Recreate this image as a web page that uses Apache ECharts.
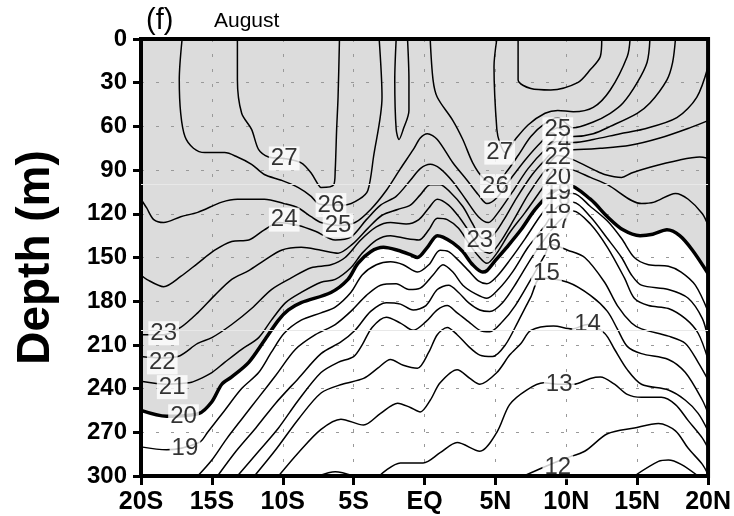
<!DOCTYPE html>
<html>
<head>
<meta charset="utf-8">
<script src="https://cdn.jsdelivr.net/npm/echarts/dist/echarts.min.js"></script>
<style>
  html, body { margin: 0; padding: 0; background: #fff; }
  #main { width: 734px; height: 516px; }
</style>
</head>
<body>
<div id="main"></div>
<script>
// latitude (deg, S negative) / depth (m) pairs for each isotherm
var latLabels = ['20S', '15S', '10S', '5S', 'EQ', '5N', '10N', '15N', '20N'];

var iso11 = [[14.8,300],[16.5,290],[17.2,289],[18.1,292],[19.3,300]];
var iso12 = [[7.0,300],[8.4,294],[9.9,288],[11.3,283],[12.9,271],[14.8,267],[16.5,264],[17.7,269],[18.6,281],[19.6,292],[20,299]];
var iso13 = [[-3.2,300],[-1.7,291],[-0.1,291],[1.1,284],[2.3,277],[3.9,283],[5.1,270],[6.0,251],[7.2,241],[8.4,236],[9.4,237],[10.5,237],[11.7,233],[12.4,232],[13.4,237],[14.3,244],[15.3,246],[16.7,246],[17.7,251],[18.6,262],[19.6,274],[20,281]];
var iso13b = [[-7.5,300],[-6.3,297],[-5.0,300]];
var iso14 = [[-10.3,300],[-8.9,284],[-7.3,268],[-5.9,261],[-4.3,265],[-3.1,257],[-1.9,250],[-1.0,253],[-0.3,256],[0.4,248],[1.1,236],[2.3,227],[3.2,233],[3.9,237],[5.1,229],[6.0,217],[6.8,209],[7.5,200],[9.1,197],[10.4,199],[11.5,196],[12.7,202],[13.4,213],[14.3,227],[15.3,237],[17.2,241],[18.4,248],[19.3,257],[20,269]];
var iso15 = [[-12.0,300],[-10.5,282],[-8.9,261],[-7.3,243],[-5.8,237],[-4.3,233],[-3.3,226],[-2.4,220],[-1.5,224],[-0.5,226],[0.3,215],[0.9,203],[1.6,198],[2.3,203],[3.1,211],[3.9,217],[4.8,218],[5.7,210],[6.6,194],[7.5,177],[8.2,164],[10.1,167],[11.7,176],[12.9,187],[13.6,199],[14.3,211],[15.3,216],[17.2,220],[18.4,229],[19.6,248],[20,257]];
var iso16 = [[-13.2,300],[-11.7,283],[-10.3,267],[-8.9,248],[-7.3,229],[-6.1,222],[-5.0,218],[-4.4,210],[-3.7,198],[-2.7,191],[-1.7,195],[-0.8,200],[0.1,194],[0.9,186],[1.6,183],[2.3,188],[3.1,194],[3.9,200],[4.6,201],[5.5,194],[6.4,183],[7.5,165],[8.5,148],[8.9,141],[10.1,145],[11.3,150],[12.7,167],[13.6,183],[14.6,195],[15.3,199],[17.2,204],[18.4,209],[19.3,222],[20,234]];
var iso17 = [[-14.6,300],[-13.3,283],[-11.9,267],[-10.5,250],[-8.9,233],[-7.3,216],[-5.9,208],[-4.9,200],[-3.8,187],[-2.7,181],[-1.7,182],[-0.8,186],[0.1,183],[0.9,172],[1.7,169],[2.4,174],[3.1,181],[3.9,186],[4.6,187],[5.5,181],[6.5,167],[7.7,148],[9.4,126],[10.5,118],[11.7,127],[12.9,143],[14.1,164],[14.8,178],[15.8,183],[17.2,185],[18.4,192],[19.3,202],[20,220]];
var iso18 = [[-16.0,300],[-15.0,289],[-14.0,275],[-12.9,261],[-11.7,246],[-10.5,231],[-9.1,213],[-7.7,203],[-6.3,196],[-5.2,187],[-4.1,176],[-3.1,169],[-2.0,168],[-1.1,172],[-0.3,171],[0.6,162],[1.3,155],[2.0,160],[2.7,169],[3.6,175],[4.4,178],[5.2,172],[6.2,160],[7.3,143],[8.5,128],[9.4,115],[10.5,112],[11.7,122],[12.9,137],[13.9,150],[14.6,162],[15.3,169],[17.2,172],[18.6,178],[19.6,192],[20,206]];
var iso19 = [[-20,280],[-18.2,282],[-15.9,277],[-15.3,270],[-14.1,255],[-12.9,240],[-11.7,229],[-10.8,215],[-9.9,202],[-8.7,193],[-7.3,188],[-6.3,184],[-5.2,174],[-4.4,162],[-3.4,155],[-2.4,153],[-1.5,155],[-0.5,160],[0.3,155],[1.1,145],[1.7,146],[2.4,152],[3.1,159],[3.8,166],[4.4,168],[5.1,163],[6.0,152],[7.1,137],[8.2,121],[9.4,107],[10.5,106],[11.7,115],[12.9,125],[13.9,137],[14.8,150],[15.8,155],[17.2,156],[18.1,160],[19.1,169],[20,187]];
var iso20 = [[-20,255],[-18.2,259],[-15.9,257],[-15.0,249],[-14.3,237],[-13.6,232],[-12.4,222],[-11.3,207],[-10.3,193],[-9.6,186],[-8.7,181],[-6.6,174],[-5.4,165],[-4.7,154],[-3.8,146],[-2.9,143],[-1.9,145],[-1.0,148],[-0.5,150],[0.2,143],[0.9,135],[1.3,136],[2.0,140],[2.7,146],[3.4,155],[4.1,160],[4.4,159],[5.0,152],[5.8,143],[6.8,131],[7.8,117],[8.9,106],[10.1,100],[11.7,110],[12.9,122],[14.0,131],[15.2,135],[16.1,134],[17.1,131],[18.0,135],[18.9,145],[20,161]];
var iso21 = [[-20,235],[-18.2,237],[-16.6,236],[-16.0,234],[-15.0,229],[-14.1,222],[-12.9,213],[-11.7,205],[-10.8,193],[-9.8,181],[-8.7,174],[-7.3,167],[-6.3,165],[-5.2,157],[-4.4,147],[-3.4,138],[-2.4,135],[-1.3,137],[-0.4,138],[0.3,131],[0.9,123],[1.6,124],[2.4,130],[3.1,140],[3.8,149],[4.4,154],[5.1,147],[6.0,133],[7.1,119],[8.2,104],[9.4,88],[10.5,90],[11.7,95],[12.9,100],[15.3,113],[16.2,112],[17.7,106],[18.6,110],[19.6,120],[20,128]];
var iso22 = [[-20,218],[-18.6,219],[-17.4,218],[-16.0,209],[-15.0,205],[-13.6,196],[-12.2,185],[-10.8,172],[-9.4,164],[-8.0,157],[-6.6,155],[-5.6,150],[-4.5,138],[-3.4,129],[-2.4,126],[-1.3,127],[-0.4,124],[0.3,116],[0.9,110],[1.7,114],[2.5,123],[3.2,133],[3.9,144],[4.6,147],[5.3,140],[6.3,124],[7.3,107],[8.5,90],[9.4,80],[10.5,83],[12.0,90],[12.7,93],[13.9,95],[14.6,92],[15.9,88],[18.0,83],[19.4,81],[20,82]];
var iso23 = [[-20,203],[-18.4,203],[-17.2,198],[-16.0,188],[-14.8,176],[-13.6,165],[-12.4,159],[-11.3,152],[-10.1,145],[-8.7,143],[-7.3,145],[-6.1,147],[-5.1,141],[-4.0,130],[-3.0,121],[-1.9,117],[-1.0,114],[-0.3,107],[0.4,100],[1.1,100],[1.8,105],[2.7,115],[3.4,127],[4.1,137],[4.8,135],[5.6,124],[6.5,109],[7.6,93],[8.5,83],[9.4,75],[10.5,76],[12.4,75],[14.5,73],[16.6,68],[18.7,61],[20,56]];
var iso24 = [[-20,162],[-19.6,165],[-18.4,170],[-17.2,163],[-16.0,154],[-14.8,145],[-13.6,139],[-12.4,138],[-11.3,131],[-10.3,126],[-8.9,128],[-7.7,132],[-6.3,138],[-5.2,136],[-4.1,124],[-3.1,114],[-2.0,108],[-1.0,97],[-0.3,89],[0.4,86],[1.1,89],[2.0,98],[2.9,110],[3.8,122],[4.5,126],[5.2,119],[6.2,105],[7.3,89],[8.5,76],[9.4,70],[10.5,71],[11.9,69],[13.8,65],[15.4,62],[17.8,54],[19.2,40],[20,19]];
var iso25 = [[-20,110],[-19.6,116],[-19.1,124],[-18.4,126],[-17.2,122],[-16.0,119],[-14.3,112],[-13.2,110],[-11.3,110],[-9.9,113],[-8.9,116],[-8.0,122],[-7.3,126],[-6.1,128],[-4.9,126],[-3.8,117],[-2.7,104],[-1.7,89],[-0.8,76],[-0.3,68],[0.2,65],[0.9,69],[2.0,85],[3.0,97],[3.8,107],[4.4,113],[5.1,109],[6.0,97],[7.1,83],[8.2,71],[9.4,61],[10.5,67],[11.9,65],[13.1,60],[15.0,51],[15.9,44],[17.1,28],[17.5,16],[17.7,0]];
var iso25b = [[-2.0,0],[-2.1,28],[-2.0,62],[-1.8,69],[-1.5,62],[-1.1,49],[-1.1,28],[-1.2,0]];
var iso26a = [[-17.1,0],[-17.3,28],[-17.2,51],[-16.9,67],[-16.3,75],[-15.5,78],[-14.1,78],[-13.2,81],[-12.2,86],[-11.3,93],[-10.1,97],[-8.9,102],[-8.0,108],[-7.5,113],[-6.6,114],[-5.6,114],[-4.6,110],[-4.0,104],[-3.6,81],[-3.0,40],[-3.2,0]];
var iso26b = [[0.4,0],[0.6,28],[0.9,40],[2.0,56],[2.7,69],[3.4,85],[4.1,95],[5.0,100],[5.8,91],[6.6,80],[7.5,67],[8.5,58],[9.4,54],[10.5,61],[11.9,57],[13.1,51],[14.0,44],[15.0,30],[15.7,16],[15.9,0]];
var iso27a = [[-13.2,0],[-13.2,28],[-12.9,51],[-12.2,62],[-11.7,76],[-11.0,81],[-9.9,82],[-8.7,85],[-8.0,92],[-7.5,100],[-7.3,102],[-6.4,100],[-6.3,90],[-6.2,62],[-6.1,40],[-6.0,0]];
var iso27b = [[5.1,0],[4.9,19],[5.1,62],[5.3,71],[5.7,78],[6.4,69],[7.3,59],[8.5,51],[9.4,49],[10.5,50],[11.9,47],[13.1,35],[14.3,12],[14.5,0]];
var iso28 = [[6.6,0],[6.6,28],[7.5,34],[8.9,35],[10.8,30],[11.7,21],[12.4,12],[12.5,0]];

// contour labels: [lat, depth, text]; later entries sit on top of earlier ones
var contourLabels = [
  [-9.9,82,'27'],[-6.6,114,'26'],[-6.1,128,'25'],[-9.9,124,'24'],
  [-18.4,202,'23'],[-18.5,222,'22'],[-17.8,239,'21'],[-17.0,259,'20'],[-16.9,281,'19'],
  [5.3,78,'27'],[5.0,101,'26'],[3.9,138,'23'],
  [8.7,140,'16'],[8.6,161,'15'],[11.5,196,'14'],[9.5,237,'13'],[9.4,294,'12'],
  [9.4,125,'17'],[9.4,115,'18'],[9.4,105,'19'],[9.4,95,'20'],
  [9.4,71,'24'],[9.4,81,'22'],[9.4,62,'25']
];

var FONT = 'Liberation Sans';
var chart = echarts.init(document.getElementById('main'), null, { renderer: 'canvas' });

function iso(data, width) {
  return {
    type: 'line', data: data, smooth: 0.3, symbol: 'none', silent: true,
    lineStyle: { color: '#000', width: width || 1.5 }, z: 3
  };
}

var dotted = { color: '#999', width: 1, type: [3, 12] };

var option = {
  animation: false,
  backgroundColor: '#fff',
  title: [
    { text: '(f)', left: 141, top: 1, textStyle: { fontFamily: FONT, fontSize: 29, fontWeight: 'normal', color: '#000' } },
    { text: 'August', left: 209, top: 6, textStyle: { fontFamily: FONT, fontSize: 21, fontWeight: 'normal', color: '#000' } }
  ],
  grid: { left: 141, right: 25, top: 39, bottom: 40, show: true, borderColor: '#000', borderWidth: 4, z: 5 },
  xAxis: {
    type: 'value', min: -20, max: 20, interval: 5, z: 2,
    axisLine: { show: false, onZero: false },
    axisTick: { show: true, length: 9, lineStyle: { color: '#000', width: 3 } },
    axisLabel: {
      margin: 14, color: '#000', fontFamily: FONT, fontSize: 25, fontWeight: 'bold',
      formatter: function (v) { return latLabels[Math.round((v + 20) / 5)]; }
    },
    splitLine: { show: true, lineStyle: dotted }
  },
  yAxis: {
    type: 'value', inverse: true, min: 0, max: 300, interval: 30, z: 2,
    name: 'Depth (m)', nameLocation: 'middle', nameGap: 82, nameRotate: 90,
    nameTextStyle: { fontFamily: FONT, fontSize: 46, fontWeight: 'bold', color: '#000' },
    axisLine: { show: false, onZero: false },
    axisTick: { show: true, length: 8, lineStyle: { color: '#000', width: 3 } },
    axisLabel: { margin: 14, color: '#000', fontFamily: FONT, fontSize: 24, fontWeight: 'bold' },
    splitLine: { show: true, lineStyle: dotted }
  },
  series: [
    {
      // grey shading above the 20 degree isotherm
      type: 'line', data: iso20, smooth: 0.3, symbol: 'none', silent: true, z: 1,
      lineStyle: { width: 0 },
      areaStyle: { color: '#dcdcdc', opacity: 1, origin: 'start' },
      markLine: {
        silent: true, symbol: 'none', label: { show: false },
        lineStyle: { color: '#e8e8e8', width: 1, type: 'solid' },
        data: [{ yAxis: 100 }, { yAxis: 200 }]
      }
    },
    iso(iso11), iso(iso12), iso(iso13), iso(iso13b), iso(iso14), iso(iso15),
    iso(iso16), iso(iso17), iso(iso18), iso(iso19), iso(iso20, 3.5),
    iso(iso21), iso(iso22), iso(iso23), iso(iso24), iso(iso25), iso(iso25b),
    iso(iso26a), iso(iso26b), iso(iso27a), iso(iso27b), iso(iso28),
    {
      type: 'scatter', data: contourLabels, symbol: 'rect', symbolSize: 1, silent: true, z: 4,
      itemStyle: { color: 'rgba(0,0,0,0)' },
      label: {
        show: true, position: 'inside', formatter: function (p) { return p.data[2]; },
        fontFamily: FONT, fontSize: 24, color: '#000',
        backgroundColor: '#fff', padding: [1, 2, 0, 2], lineHeight: 23
      }
    }
  ]
};
chart.setOption(option);
window.addEventListener('resize', function () { chart.resize(); });
</script>
</body>
</html>
